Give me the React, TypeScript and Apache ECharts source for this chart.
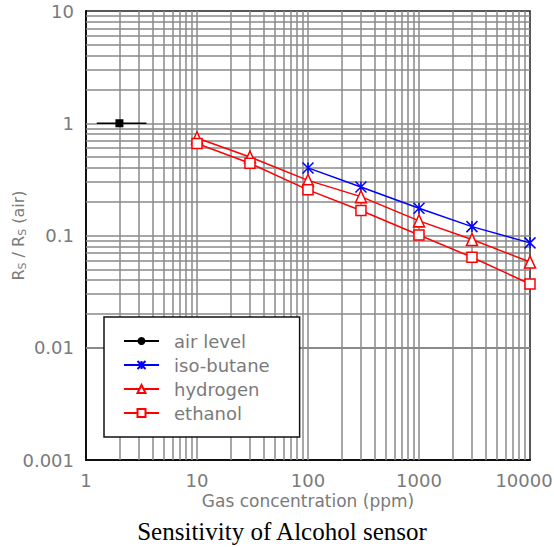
import React, { useEffect, useRef } from "react";
import * as echarts from "echarts";

// ---- data ----
const concentrations = [10, 30, 100, 300, 1000, 3000, 10000];
const isoButaneX = [100, 300, 1000, 3000, 10000];
const isoButaneY = [0.4, 0.27, 0.175, 0.12, 0.086];
const hydrogenY = [0.74, 0.5, 0.31, 0.222, 0.135, 0.092, 0.058];
const ethanolY = [0.66, 0.44, 0.255, 0.167, 0.101, 0.064, 0.037];
const airLevelX = [1.25, 2, 3.5];
const airLevelY = [1, 1, 1];

const xTickLabels = ["1", "10", "100", "1000", "10000"];
const yTickLabels = ["0.001", "0.01", "0.1", "1", "10"];
const xDecades = [1, 10, 100, 1000];
const yDecades = [0.001, 0.01, 0.1, 1];
const multipliers = [1, 2, 3, 4, 5, 6, 7, 8, 9];

const GRAY = "#8a8a8a";
const TEXT_GRAY = "#7a7a7a";
const FONT = "DejaVu Sans";

export default function App() {
  const ref = useRef<HTMLDivElement>(null);

  useEffect(() => {
    if (!ref.current) return;
    const chart = echarts.init(ref.current, null, { renderer: "svg" });

    const xGrid: number[] = [];
    xDecades.forEach((d) => multipliers.forEach((m) => { const v = d * m; if (v > 1) xGrid.push(v); }));
    const yGrid: number[] = [];
    yDecades.forEach((d) => multipliers.forEach((m) => { const v = +(d * m).toPrecision(3); if (v > 0.001) yGrid.push(v); }));

    const gridLines = [
      ...xGrid.map((v) => ({ xAxis: v })),
      ...yGrid.map((v) => ({ yAxis: v })),
    ];

    const option: any = {
      animation: false,
      backgroundColor: "#fff",
      grid: {
        left: 86,
        top: 11,
        right: 24,
        bottom: 87,
        containLabel: false,
        outerBoundsMode: "none",
        show: true,
        borderColor: "#222",
        borderWidth: 1.5,
        backgroundColor: "transparent",
      },
      xAxis: {
        type: "log",
        logBase: 10,
        min: 1,
        max: 10000,
        name: "Gas concentration (ppm)",
        nameLocation: "middle",
        nameGap: 32,
        nameMoveOverlap: false,
        nameTextStyle: { color: TEXT_GRAY, fontSize: 17, fontFamily: FONT },
        axisLine: { show: true, lineStyle: { color: "#111", width: 2 } },
        axisTick: { show: false },
        splitLine: { show: false },
        axisLabel: {
          color: TEXT_GRAY,
          fontSize: 18,
          fontFamily: FONT,
          margin: 11,
          formatter: (v: number) => {
            const idx = Math.round(Math.log10(v));
            const t = xTickLabels[idx] ?? "";
            return idx === xTickLabels.length - 1 ? "{r|" + t + "}" : t;
          },
          rich: {
            r: { color: TEXT_GRAY, fontSize: 18, fontFamily: FONT, padding: [0, 12, 0, 0] },
          },
        },
      },
      yAxis: {
        type: "log",
        logBase: 10,
        min: 0.001,
        max: 10,
        name: "R{s|S} / R{s|S} (air)",
        nameLocation: "middle",
        nameGap: 58,
        nameMoveOverlap: false,
        nameRotate: 90,
        nameTextStyle: {
          color: TEXT_GRAY,
          fontSize: 16,
          fontFamily: FONT,
          rich: {
            s: { fontSize: 11, color: TEXT_GRAY, fontFamily: FONT, verticalAlign: "bottom", padding: [8, 0, 0, 0] },
          },
        },
        axisLine: { show: true, lineStyle: { color: "#111", width: 2 } },
        axisTick: { show: false },
        splitLine: { show: false },
        axisLabel: {
          color: TEXT_GRAY,
          fontSize: 18,
          fontFamily: FONT,
          margin: 12,
          formatter: (v: number) => yTickLabels[Math.round(Math.log10(v)) + 3] ?? "",
        },
      },
      legend: {
        orient: "vertical",
        left: 104,
        top: 317,
        backgroundColor: "#fff",
        borderColor: "#111",
        borderWidth: 1.5,
        padding: [15, 30, 15, 19],
        itemGap: 6,
        itemWidth: 35,
        itemHeight: 10,
        textStyle: { color: TEXT_GRAY, fontSize: 18, fontFamily: FONT, padding: [0, 0, 0, 10] },
        data: ["air level", "iso-butane", "hydrogen", "ethanol"],
      },
      series: [
        {
          name: "grid",
          type: "line",
          data: [],
          silent: true,
          markLine: {
            silent: true,
            z: 1,
            symbol: ["none", "none"],
            label: { show: false },
            lineStyle: { color: GRAY, width: 1.5, type: "solid" },
            emphasis: { disabled: true },
            data: gridLines,
          },
        },
        {
          name: "air level",
          type: "line",
          z: 3,
          symbol: "circle",
          symbolSize: 4,
          itemStyle: { color: "#000" },
          lineStyle: { color: "#000", width: 1.5 },
          data: airLevelX.map((x, i) =>
            i === 1
              ? { value: [x, airLevelY[i]], symbol: "rect", symbolSize: 8 }
              : { value: [x, airLevelY[i]], symbol: "none" }
          ),
        },
        {
          name: "iso-butane",
          type: "line",
          z: 3,
          symbol: "path://M0,0L10,10M10,0L0,10M5,0L5,10",
          symbolSize: 11,
          showAllSymbol: true,
          itemStyle: { color: "#0000ff", borderColor: "#0000ff", borderWidth: 1.5 },
          lineStyle: { color: "#0000ff", width: 1.5 },
          data: isoButaneX.map((x, i) => [x, isoButaneY[i]]),
        },
        {
          name: "hydrogen",
          type: "line",
          z: 3,
          symbol: "triangle",
          symbolSize: [11, 12],
          itemStyle: { color: "#fff", borderColor: "#ff0000", borderWidth: 1.5 },
          lineStyle: { color: "#ff0000", width: 1.5 },
          data: concentrations.map((x, i) => [x, hydrogenY[i]]),
        },
        {
          name: "ethanol",
          type: "line",
          z: 3,
          symbol: "rect",
          symbolSize: 10,
          itemStyle: { color: "#fff", borderColor: "#ff0000", borderWidth: 1.5 },
          lineStyle: { color: "#ff0000", width: 1.5 },
          data: concentrations.map((x, i) => [x, ethanolY[i]]),
        },
      ],
      graphic: [
        {
          type: "text",
          x: 282,
          y: 531,
          style: {
            text: "Sensitivity of Alcohol sensor",
            font: "25px 'Liberation Serif'",
            fill: "#000",
            textAlign: "center",
            textVerticalAlign: "middle",
          },
        },
      ],
    };

    chart.setOption(option);
    return () => chart.dispose();
  }, []);

  return (
    <div
      ref={ref}
      style={{ position: "fixed", left: 0, top: 0, width: 554, height: 547 }}
    />
  );
}
